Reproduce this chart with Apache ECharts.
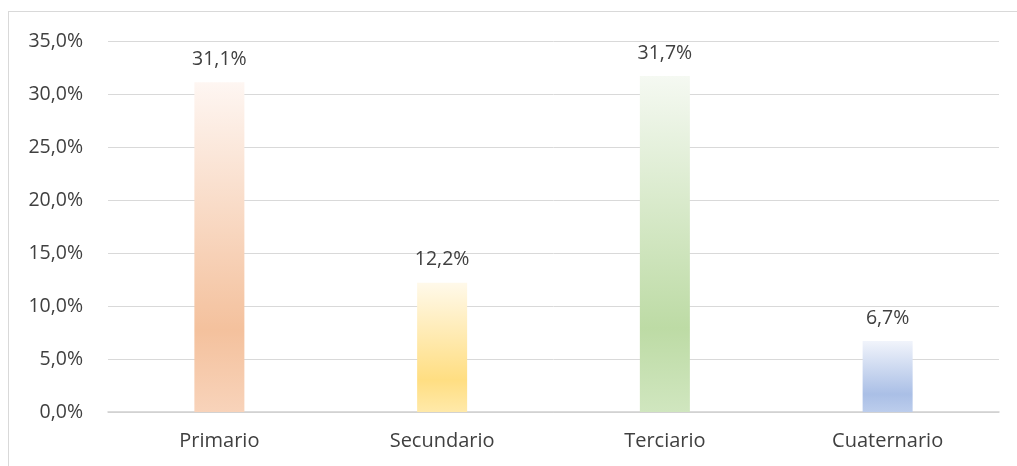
<!DOCTYPE html>
<html>
<head>
<meta charset="utf-8">
<script src="https://cdn.jsdelivr.net/npm/echarts@6/dist/echarts.min.js"></script>
<style>
  html, body { margin: 0; padding: 0; background: #fff; }
  #frame {
    position: absolute; left: 8px; top: 11px; width: 1020px; height: 470px;
    border: 1px solid #D9D9D9; box-sizing: border-box;
  }
  #chart { position: absolute; left: 0; top: 0; width: 1017px; height: 466px; }
</style>
</head>
<body>
<div id="frame"></div>
<div id="chart"></div>
<script>
// datos
const sectores = ["Primario", "Secundario", "Terciario", "Cuaternario"];
const porcentajes = [31.1, 12.2, 31.7, 6.7];
// colores: [arriba, más oscuro, abajo]
const colores = [
  ["#FEF6F2", "#F4C19D", "#F8D3BA"],
  ["#FFF9EA", "#FFDE82", "#FFE9A9"],
  ["#F5F9F2", "#BDDBA5", "#D0E6BF"],
  ["#F1F4FB", "#AABFE6", "#BCCDEC"]
];

const fmt = v => v.toFixed(1).replace(".", ",") + "%";
const fuente = "Open Sans";

const chart = echarts.init(document.getElementById("chart"));
chart.setOption({
  animation: false,
  grid: { left: 108, right: 18, top: 41, bottom: 54 },
  xAxis: {
    type: "category",
    data: sectores,
    axisTick: { show: false },
    axisLine: { lineStyle: { color: "#D0D0D0", width: 1.5 } },
    axisLabel: { color: "#404040", fontFamily: fuente, fontSize: 20, margin: 19 }
  },
  yAxis: {
    type: "value",
    min: 0, max: 35, interval: 5,
    axisLine: { show: false },
    axisTick: { show: false },
    splitLine: { lineStyle: { color: "#D9D9D9", width: 1 } },
    axisLabel: {
      color: "#404040", fontFamily: fuente, fontSize: 19.5, margin: 25,
      formatter: v => fmt(v)
    }
  },
  series: [{
    type: "bar",
    barWidth: 50,
    data: porcentajes.map((v, i) => ({
      value: v,
      itemStyle: {
        color: {
          type: "linear", x: 0, y: 0, x2: 0, y2: 1,
          colorStops: [
            { offset: 0, color: colores[i][0] },
            { offset: 0.75, color: colores[i][1] },
            { offset: 1, color: colores[i][2] }
          ]
        }
      }
    })),
    label: {
      show: true, position: "top", distance: 13,
      color: "#404040", fontFamily: fuente, fontSize: 19.5,
      formatter: p => fmt(p.value)
    }
  }]
});
</script>
</body>
</html>
